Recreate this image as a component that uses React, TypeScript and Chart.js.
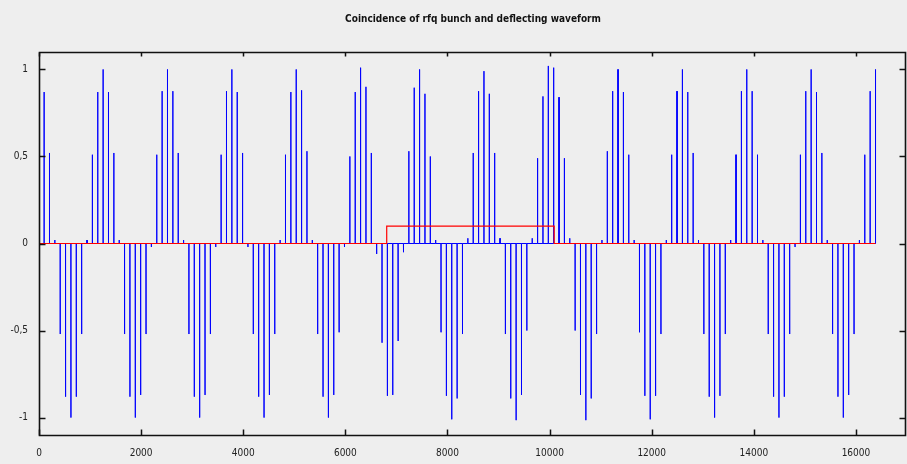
import React, { useEffect, useRef } from "react";
import { Chart, registerables } from "chart.js";

Chart.register(...registerables);

// ---------------- data ----------------
const TITLE = "Coincidence of rfq bunch and deflecting waveform";

const X_TICKS = [0, 2000, 4000, 6000, 8000, 10000, 12000, 14000, 16000];
const Y_TICKS = [-1, -0.5, 0, 0.5, 1];
const X_MIN = 0;
const X_MAX = 17000;
const Y_MIN = -1.1;
const Y_MAX = 1.1;

// rfq bunch arrival grid (sample index -> time)
const BUNCH_START = 100;
const BUNCH_SPACING = 105.05;
const RECORD_END = 16384;

// deflecting waveform value seen by each bunch
const WAVEFORM_AT_BUNCH = [
  0.87, 0.52, 0.02, -0.52, -0.88, -1.0, -0.88, -0.52, 0.02, 0.51, 0.87, 1.0,
  0.87, 0.52, 0.02, -0.52, -0.88, -1.0, -0.87, -0.52, -0.02, 0.51, 0.875, 1.0,
  0.875, 0.52, 0.02, -0.52, -0.88, -1.0, -0.87, -0.52, -0.02, 0.51, 0.875, 1.0,
  0.87, 0.52, -0.02, -0.52, -0.88, -1.0, -0.87, -0.52, 0.02, 0.51, 0.87, 1.0,
  0.88, 0.53, 0.02, -0.52, -0.88, -1.0, -0.87, -0.51, -0.02, 0.5, 0.87, 1.01,
  0.9, 0.52, -0.06, -0.57, -0.875, -0.87, -0.56, -0.05, 0.53, 0.895, 1.0, 0.86,
  0.5, 0.02, -0.51, -0.875, -1.01, -0.89, -0.52, 0.03, 0.52, 0.875, 0.99, 0.86,
  0.52, 0.03, -0.52, -0.89, -1.015, -0.87, -0.5, 0.03, 0.49, 0.845, 1.02, 1.01,
  0.84, 0.49, 0.03, -0.5, -0.87, -1.015, -0.89, -0.52, 0.02, 0.53, 0.875, 1.0,
  0.87, 0.51, 0.02, -0.51, -0.875, -1.01, -0.875, -0.52, 0.02, 0.51, 0.875, 1.0,
  0.87, 0.52, 0.02, -0.52, -0.88, -1.0, -0.875, -0.52, 0.02, 0.51, 0.875, 1.0,
  0.875, 0.51, 0.02, -0.52, -0.88, -1.0, -0.88, -0.52, -0.02, 0.51, 0.875, 1.0,
  0.87, 0.52, 0.02, -0.52, -0.88, -1.0, -0.87, -0.52, 0.02, 0.51, 0.875, 1.0,
];

// rfq gate (red trace)
const GATE_X = [0, 6810, 6810, 10090, 10090, 16384];
const GATE_Y = [0, 0, 0.1, 0.1, 0, 0];

// ---------------- style ----------------
const BG = "#eeeeee";
const FONT_FAMILY =
  "'Liberation Sans Narrow', 'DejaVu Sans Condensed', 'Liberation Sans', sans-serif";

const framePlugin = {
  id: "gnuFrame",
  beforeDraw(chart: any) {
    const ctx = chart.ctx;
    ctx.save();
    ctx.fillStyle = BG;
    ctx.fillRect(0, 0, chart.width, chart.height);
    ctx.restore();
  },
  afterDatasetsDraw(chart: any) {
    const { ctx, chartArea } = chart;
    const xs = chart.scales.x;
    const ys = chart.scales.y;
    const L = Math.round(chartArea.left) + 0.5;
    const R = Math.round(chartArea.right) - 1.5;
    const T = Math.round(chartArea.top) + 0.5;
    const B = Math.round(chartArea.bottom) + 0.5;
    const TL = 6;
    ctx.save();
    ctx.strokeStyle = "#111111";
    ctx.lineWidth = 1.6;
    ctx.beginPath();
    ctx.rect(L, T, R - L, B - T);
    ctx.stroke();
    ctx.lineWidth = 1.5;
    ctx.beginPath();
    for (const v of X_TICKS) {
      const px = Math.round(xs.getPixelForValue(v)) + 0.5;
      ctx.moveTo(px, B);
      ctx.lineTo(px, B - TL);
      ctx.moveTo(px, T);
      ctx.lineTo(px, T + TL - 2);
    }
    for (const v of Y_TICKS) {
      const py = Math.round(ys.getPixelForValue(v)) + 0.5;
      ctx.moveTo(L, py);
      ctx.lineTo(L + TL, py);
      ctx.moveTo(R, py);
      ctx.lineTo(R - TL, py);
    }
    ctx.stroke();
    ctx.restore();
  },
};

export default function App() {
  const canvasRef = useRef<HTMLCanvasElement | null>(null);

  useEffect(() => {
    document.body.style.margin = "0";
    document.body.style.background = BG;
    const canvas = canvasRef.current;
    if (!canvas) return;

    const waveform: { x: number; y: number }[] = [{ x: 0, y: 0 }];
    WAVEFORM_AT_BUNCH.forEach((v, k) => {
      const t = BUNCH_START + k * BUNCH_SPACING;
      waveform.push({ x: t - 1, y: 0 });
      waveform.push({ x: t, y: v });
      waveform.push({ x: t + 1, y: 0 });
    });
    waveform.push({ x: RECORD_END, y: 0 });

    const gate = GATE_X.map((x, i) => ({ x, y: GATE_Y[i] }));

    const tickFont = { family: FONT_FAMILY, size: 10 };

    const chart = new Chart(canvas, {
      type: "line",
      data: {
        datasets: [
          {
            label: "gate",
            data: gate,
            borderColor: "#ff0000",
            borderWidth: 1.2,
            pointRadius: 0,
            fill: false,
            tension: 0,
            order: 0,
          },
          {
            label: "waveform",
            data: waveform,
            borderColor: "#0000ff",
            borderWidth: 1,
            borderJoinStyle: "bevel",
            pointRadius: 0,
            fill: false,
            tension: 0,
            order: 1,
          },
        ],
      },
      options: {
        animation: false,
        responsive: false,
        events: [],
        layout: { padding: { left: 0, right: 0, top: 0, bottom: 0 } },
        plugins: {
          legend: { display: false },
          tooltip: { enabled: false },
          title: {
            display: true,
            text: TITLE,
            fullSize: false,
            color: "#111111",
            font: { family: FONT_FAMILY, size: 10, weight: "bold", lineHeight: 1.2 },
            padding: { top: 13, bottom: 27 },
          },
        },
        scales: {
          x: {
            type: "linear",
            min: X_MIN,
            max: X_MAX,
            grid: { display: false, drawTicks: false },
            border: { display: false },
            ticks: {
              font: tickFont,
              color: "#222222",
              padding: 12,
              maxRotation: 0,
              autoSkip: false,
              callback: (v: any) => String(v),
            },
            afterBuildTicks: (s: any) => {
              s.ticks = X_TICKS.map((v) => ({ value: v }));
            },
            afterFit: (s: any) => {
              s.height = 29;
            },
          },
          y: {
            type: "linear",
            min: Y_MIN,
            max: Y_MAX,
            grid: { display: false, drawTicks: false },
            border: { display: false },
            ticks: {
              font: tickFont,
              color: "#222222",
              padding: 11,
              autoSkip: false,
              callback: (v: any) => String(v).replace(".", ","),
            },
            afterBuildTicks: (s: any) => {
              s.ticks = Y_TICKS.map((v) => ({ value: v }));
            },
            afterFit: (s: any) => {
              s.width = 39;
            },
          },
        },
      },
      plugins: [framePlugin],
    });

    return () => chart.destroy();
  }, []);

  return (
    <div style={{ width: 907, height: 464, background: BG }}>
      <canvas ref={canvasRef} width={907} height={464} style={{ display: "block" }} />
    </div>
  );
}
